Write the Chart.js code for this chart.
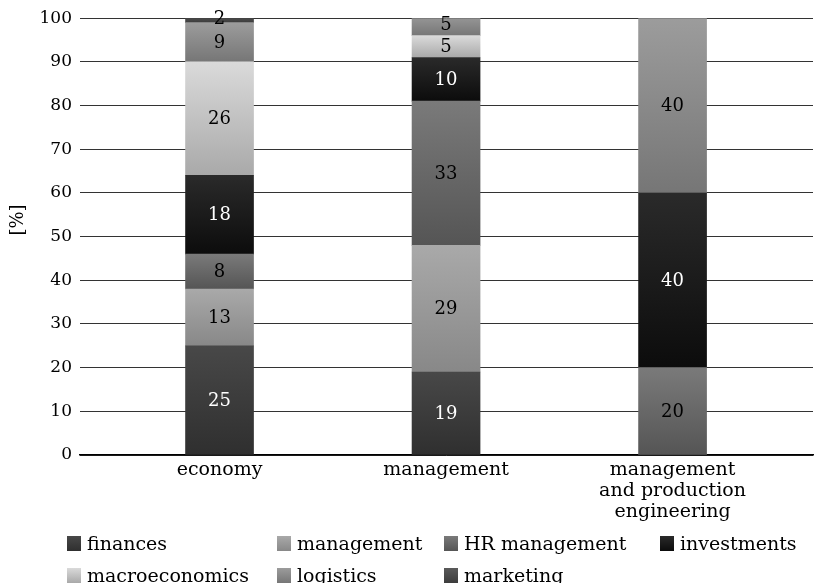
<!DOCTYPE html>
<html>
<head>
<meta charset="utf-8">
<script src="https://cdn.jsdelivr.net/npm/chart.js@4/dist/chart.umd.min.js"></script>
<style>
  html, body { margin: 0; padding: 0; background: #fff; }
  #wrap { position: relative; width: 817px; height: 583px; }
  #legend { position: absolute; left: 0; top: 0; width: 817px; height: 583px; pointer-events: none;
            font-family: "DejaVu Serif", serif; font-size: 19px; color: #000; }
  .item { position: absolute; white-space: nowrap; line-height: 20px; }
  .box { display: inline-block; width: 14px; height: 15px; vertical-align: -1px; margin-right: 6px; }
</style>
</head>
<body>
<div id="wrap">
  <canvas id="chart" width="817" height="583"></canvas>
  <div id="legend"></div>
</div>
<script>
// Study fields and the share of each specialisation [%]
const categories = [["economy"], ["management"], ["management", "and production", "engineering"]];
const seriesNames = ["finances", "management", "HR management", "investments", "macroeconomics", "logistics", "marketing"];
const finances       = [25, 19, 0];
const management     = [13, 29, 0];
const hrManagement   = [8, 33, 20];
const investments    = [18, 10, 40];
const macroeconomics = [26, 5, 0];
const logistics      = [9, 5, 40];
const marketing      = [2, 0, 0];
const yTicks = [0, 10, 20, 30, 40, 50, 60, 70, 80, 90, 100];

const seriesValues = [finances, management, hrManagement, investments, macroeconomics, logistics, marketing];

// gradient shades, top → bottom
const shades = [
  ["#484848", "#2f2f2f"],
  ["#a9a9a9", "#888888"],
  ["#7a7a7a", "#555555"],
  ["#2a2a2a", "#0c0c0c"],
  ["#dadada", "#a9a9a9"],
  ["#9c9c9c", "#767676"],
  ["#5a5a5a", "#3c3c3c"]
];
const labelColors = ["#ffffff", "#000000", "#000000", "#ffffff", "#000000", "#000000", "#000000"];

const FONT = "DejaVu Serif";

function segmentFill(ctx, si) {
  const chart = ctx.chart;
  if (!chart.chartArea || ctx.type !== "data") return shades[si][1];
  const j = ctx.dataIndex;
  let start = 0;
  for (let k = 0; k < si; k++) start += seriesValues[k][j];
  const end = start + seriesValues[si][j];
  const y = chart.scales.y;
  const top = y.getPixelForValue(end), bottom = y.getPixelForValue(start);
  if (!isFinite(top) || !isFinite(bottom) || top === bottom) return shades[si][1];
  const g = chart.ctx.createLinearGradient(0, top, 0, bottom);
  g.addColorStop(0, shades[si][0]);
  g.addColorStop(1, shades[si][1]);
  return g;
}

const datasets = seriesNames.map((name, si) => ({
  label: name,
  data: seriesValues[si].map((v, j) => ({ x: j, y: v })),
  backgroundColor: ctx => segmentFill(ctx, si),
  borderWidth: 0,
  barThickness: 68,
  clip: 0
}));

// value labels centred in each segment, plus the rotated axis title
const segmentLabels = {
  id: "segmentLabels",
  afterDatasetsDraw(chart) {
    const c = chart.ctx;
    c.save();
    c.font = "18px '" + FONT + "'";
    c.textAlign = "center";
    c.textBaseline = "middle";
    chart.data.datasets.forEach((ds, si) => {
      const meta = chart.getDatasetMeta(si);
      meta.data.forEach((el, j) => {
        const v = seriesValues[si][j];
        if (!v) return;
        c.fillStyle = labelColors[si];
        c.fillText(String(v), el.x, (el.y + el.base) / 2 + 1);
      });
    });
    c.translate(18, 220);
    c.rotate(-Math.PI / 2);
    c.fillStyle = "#000";
    c.font = "18px '" + FONT + "'";
    c.fillText("[%]", 0, 0);
    c.restore();
  }
};

new Chart(document.getElementById("chart"), {
  type: "bar",
  data: { datasets },
  options: {
    responsive: false,
    animation: false,
    events: [],
    layout: { padding: { top: 17, right: 4, left: 0, bottom: 58 } },
    plugins: { legend: { display: false }, tooltip: { enabled: false } },
    scales: {
      x: {
        type: "linear",
        stacked: true,
        offset: false,
        min: -0.616,
        max: 2.62,
        afterBuildTicks: s => { s.ticks = categories.map((_, i) => ({ value: i })); },
        afterFit: s => { s.height = 70; },
        grid: { display: false, drawTicks: false },
        border: { display: true, color: "#000", width: 1.5 },
        ticks: {
          padding: 4,
          maxRotation: 0,
          autoSkip: false,
          color: "#000",
          font: { family: FONT, size: 19, lineHeight: 1.12 },
          callback: v => categories[v]
        }
      },
      y: {
        stacked: true,
        min: 0,
        max: 100,
        afterBuildTicks: s => { s.ticks = yTicks.map(v => ({ value: v })); },
        afterFit: s => { s.width = 80; },
        grid: { color: "#333", lineWidth: 1, drawTicks: false },
        border: { display: false },
        ticks: { padding: 8, color: "#000", font: { family: FONT, size: 17 } }
      }
    }
  },
  plugins: [segmentLabels]
});

// legend laid out in aligned columns
const legendPos = [[67, 533], [277, 533], [444, 533], [660, 533], [67, 565], [277, 565], [444, 565]];
const legend = document.getElementById("legend");
seriesNames.forEach((name, si) => {
  const it = document.createElement("div");
  it.className = "item";
  it.style.left = legendPos[si][0] + "px";
  it.style.top = legendPos[si][1] + "px";
  const b = document.createElement("span");
  b.className = "box";
  b.style.background = "linear-gradient(" + shades[si][0] + ", " + shades[si][1] + ")";
  it.appendChild(b);
  it.appendChild(document.createTextNode(name));
  legend.appendChild(it);
});
</script>
</body>
</html>
